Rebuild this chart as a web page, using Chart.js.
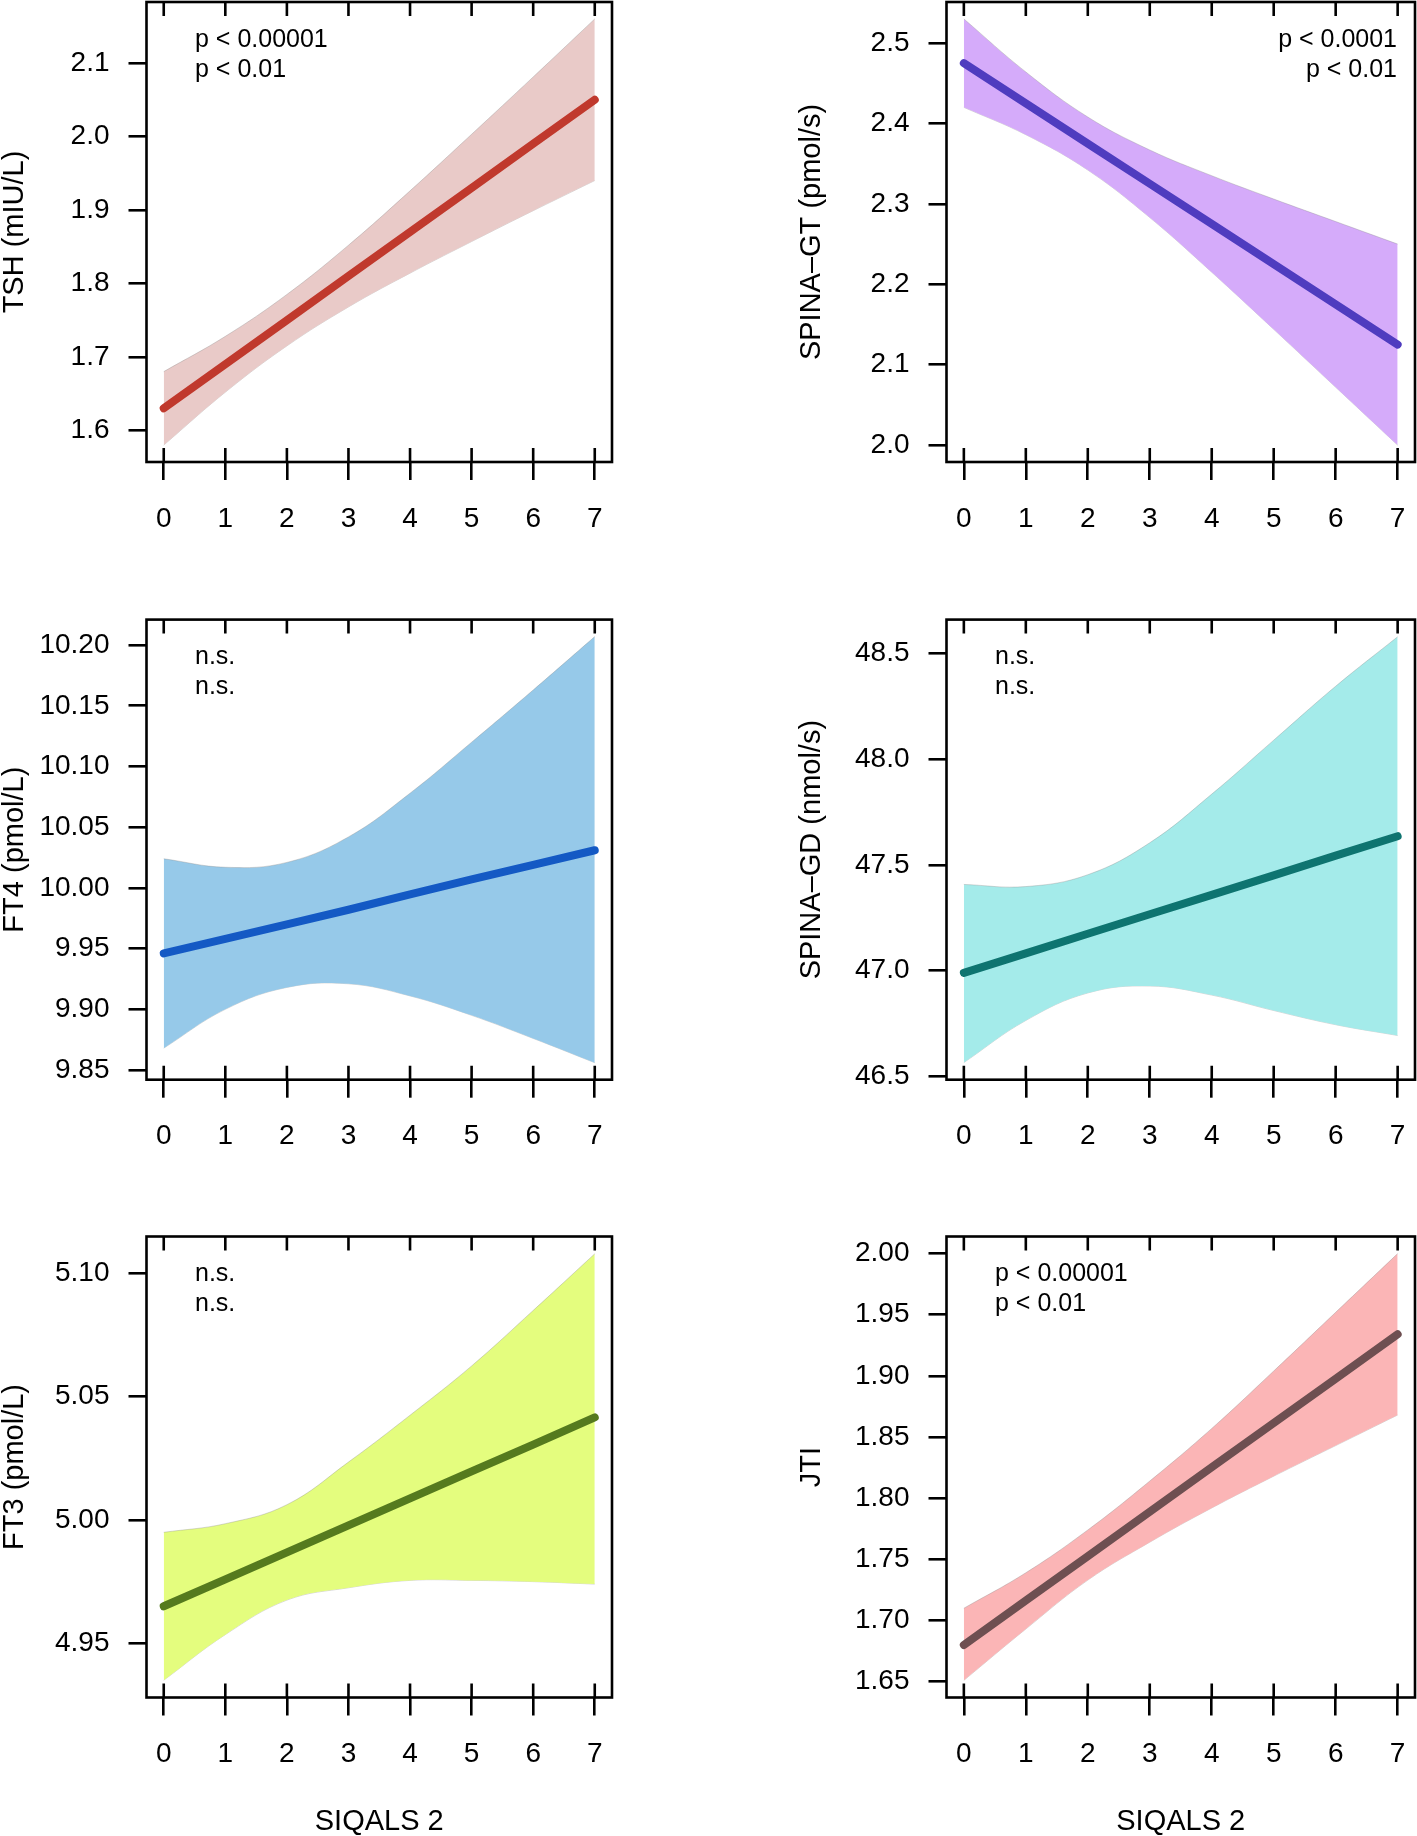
<!DOCTYPE html>
<html>
<head>
<meta charset="utf-8">
<script src="https://cdn.jsdelivr.net/npm/chart.js@4.4.1/dist/chart.umd.min.js"></script>
<style>
  body { margin: 0; background: #fff; width: 1417px; height: 1836px; position: relative; overflow: hidden; }
  canvas { position: absolute; }
</style>
</head>
<body>
<canvas id="tsh" width="709" height="612" style="left:0;top:0"></canvas>
<canvas id="gt" width="708" height="612" style="left:709px;top:0"></canvas>
<canvas id="ft4" width="709" height="612" style="left:0;top:612px"></canvas>
<canvas id="gd" width="708" height="612" style="left:709px;top:612px"></canvas>
<canvas id="ft3" width="709" height="612" style="left:0;top:1224px"></canvas>
<canvas id="jti" width="708" height="612" style="left:709px;top:1224px"></canvas>
<script>
// x values (SIQALS 2 score) and tick labels
const siqals = [0, 1, 2, 3, 4, 5, 6, 7];
const xTickLabels = ['0', '1', '2', '3', '4', '5', '6', '7'];

// TSH
const tshFit   = [1.63, 1.69, 1.75, 1.81, 1.87, 1.93, 1.99, 2.05];
const tshUpper = [1.68, 1.728, 1.785, 1.852, 1.926, 2.003, 2.081, 2.16];
const tshLower = [1.58, 1.652, 1.715, 1.768, 1.814, 1.857, 1.899, 1.94];
const tshTicks = ['1.6', '1.7', '1.8', '1.9', '2.0', '2.1'];

// SPINA-GT
const gtFit   = [2.475, 2.425, 2.375, 2.325, 2.275, 2.225, 2.175, 2.125];
const gtUpper = [2.53, 2.464, 2.408, 2.367, 2.335, 2.306, 2.278, 2.25];
const gtLower = [2.42, 2.386, 2.342, 2.283, 2.215, 2.144, 2.072, 2.0];
const gtTicks = ['2.0', '2.1', '2.2', '2.3', '2.4', '2.5'];

// FT4
const ft4Fit   = [9.946, 9.958, 9.970, 9.982, 9.9946, 10.007, 10.019, 10.031];
const ft4Upper = [10.024, 10.017, 10.021, 10.042, 10.078, 10.120, 10.163, 10.207];
const ft4Lower = [9.868, 9.900, 9.918, 9.921, 9.911, 9.895, 9.876, 9.856];
const ft4Ticks = ['9.85', '9.90', '9.95', '10.00', '10.05', '10.10', '10.15', '10.20'];

// SPINA-GD
const gdFit   = [46.99, 47.082, 47.175, 47.267, 47.359, 47.451, 47.544, 47.636];
const gdUpper = [47.408, 47.398, 47.454, 47.605, 47.835, 48.09, 48.345, 48.579];
const gdLower = [46.566, 46.765, 46.895, 46.928, 46.885, 46.812, 46.745, 46.694];
const gdTicks = ['46.5', '47.0', '47.5', '48.0', '48.5'];

// FT3
const ft3Fit   = [4.965, 4.9759, 4.9869, 4.9978, 5.0088, 5.0197, 5.0306, 5.0416];
const ft3Upper = [4.995, 4.9985, 5.0062, 5.0235, 5.0425, 5.0625, 5.085, 5.108];
const ft3Lower = [4.935, 4.9535, 4.9675, 4.9725, 4.9755, 4.9755, 4.975, 4.974];
const ft3Ticks = ['4.95', '5.00', '5.05', '5.10'];

// JTI
const jtiFit   = [1.680, 1.7163, 1.7526, 1.7889, 1.8252, 1.8615, 1.8977, 1.934];
const jtiUpper = [1.710, 1.739, 1.774, 1.814, 1.857, 1.904, 1.952, 2.000];
const jtiLower = [1.651, 1.693, 1.733, 1.764, 1.792, 1.818, 1.843, 1.868];
const jtiTicks = ['1.65', '1.70', '1.75', '1.80', '1.85', '1.90', '1.95', '2.00'];

const FONT = '"Liberation Sans", Arial, Helvetica, sans-serif';
Chart.defaults.font.family = FONT;
Chart.defaults.color = '#000';

// layout of the 3x2 grid (canvas rows are 612px tall)
const rowTops = [0, 612, 1224];
const boxTops = [2, 619.6, 1236.5];
const boxBottoms = [462, 1079.7, 1697.5];

const panels = [
  { id: 'tsh', row: 0, col: 0, title: 'TSH (mIU/L)', fit: tshFit, upper: tshUpper, lower: tshLower,
    ticks: tshTicks, yMin: 1.557, yMax: 2.183, band: '#e9cac8', line: '#c0392d',
    notes: ['p < 0.00001', 'p < 0.01'], align: 'left' },
  { id: 'gt', row: 0, col: 1, title: 'SPINA–GT (pmol/s)', fit: gtFit, upper: gtUpper, lower: gtLower,
    ticks: gtTicks, yMin: 1.979, yMax: 2.551, band: '#d5abfa', line: '#4f3cbf',
    notes: ['p < 0.0001', 'p < 0.01'], align: 'right' },
  { id: 'ft4', row: 1, col: 0, title: 'FT4 (pmol/L)', fit: ft4Fit, upper: ft4Upper, lower: ft4Lower,
    ticks: ft4Ticks, yMin: 9.842, yMax: 10.221, band: '#96c9e9', line: '#1459c4',
    notes: ['n.s.', 'n.s.'], align: 'left' },
  { id: 'gd', row: 1, col: 1, title: 'SPINA–GD (nmol/s)', fit: gdFit, upper: gdUpper, lower: gdLower,
    ticks: gdTicks, yMin: 46.485, yMax: 48.66, band: '#a4ebea', line: '#0e7470',
    notes: ['n.s.', 'n.s.'], align: 'left' },
  { id: 'ft3', row: 2, col: 0, title: 'FT3 (pmol/L)', fit: ft3Fit, upper: ft3Upper, lower: ft3Lower,
    ticks: ft3Ticks, yMin: 4.928, yMax: 5.115, band: '#e4fd7e', line: '#557a1e',
    notes: ['n.s.', 'n.s.'], align: 'left' },
  { id: 'jti', row: 2, col: 1, title: 'JTI', fit: jtiFit, upper: jtiUpper, lower: jtiLower,
    ticks: jtiTicks, yMin: 1.637, yMax: 2.014, band: '#fbb5b6', line: '#6e4f51',
    notes: ['p < 0.00001', 'p < 0.01'], align: 'left' }
];

function framePlugin(p) {
  return {
    id: 'frame',
    afterDraw(chart) {
      const { ctx, chartArea: a, scales: { x } } = chart;
      ctx.save();
      ctx.strokeStyle = '#000';
      ctx.lineWidth = 2.6;
      ctx.strokeRect(a.left, a.top, a.right - a.left, a.bottom - a.top);
      // inner tick marks on bottom and top edges
      ctx.beginPath();
      x.ticks.forEach(t => {
        const px = x.getPixelForValue(t.value);
        ctx.moveTo(px, a.bottom); ctx.lineTo(px, a.bottom - 14);
        ctx.moveTo(px, a.top); ctx.lineTo(px, a.top + 14);
      });
      ctx.stroke();
      ctx.fillStyle = '#000';
      ctx.font = '25px ' + FONT;
      ctx.textBaseline = 'middle';
      ctx.textAlign = p.align;
      const tx = p.align === 'right' ? a.right - 18 : a.left + 48.5;
      p.notes.forEach((s, i) => ctx.fillText(s, tx, a.top + 38 + i * 30));
      ctx.restore();
    }
  };
}

function makePanel(p) {
  const left = p.col === 0;
  const canvasTop = rowTops[p.row];
  const padTop = boxTops[p.row] - canvasTop;
  const xHeight = canvasTop + 612 - boxBottoms[p.row];
  const yWidth = left ? 146.5 : 237.5;
  const padRight = left ? 97 : 2;
  const tickGrid = { drawOnChartArea: false, drawTicks: true, tickLength: 18, color: '#000', lineWidth: 2.6 };
  const tickFont = { size: 28, family: FONT };
  const band = { borderColor: 'rgba(140,140,140,0.35)', borderWidth: 1, pointRadius: 0, tension: 0.4 };

  new Chart(document.getElementById(p.id), {
    type: 'line',
    data: {
      datasets: [
        { data: siqals.map((x, i) => ({ x, y: p.fit[i] })), borderColor: p.line, borderWidth: 8,
          borderCapStyle: 'round', pointRadius: 0, fill: false, tension: 0 },
        { ...band, data: siqals.map((x, i) => ({ x, y: p.upper[i] })), backgroundColor: p.band, fill: '+1' },
        { ...band, data: siqals.map((x, i) => ({ x, y: p.lower[i] })), fill: false }
      ]
    },
    options: {
      responsive: false,
      animation: false,
      layout: { padding: { top: padTop, right: padRight, left: 0, bottom: 0 } },
      plugins: { legend: { display: false }, tooltip: { enabled: false } },
      scales: {
        x: {
          type: 'linear', min: -0.28, max: 7.28,
          afterBuildTicks: s => { s.ticks = xTickLabels.map(t => ({ value: +t })); },
          afterFit: s => { s.height = xHeight; s.paddingLeft = 0; s.paddingRight = 0; },
          grid: tickGrid,
          border: { display: false },
          ticks: { font: tickFont, color: '#000', padding: 22, maxRotation: 0, autoSkip: false,
                   callback: (v, i) => xTickLabels[i] },
          title: { display: p.row === 2, text: 'SIQALS 2', color: '#000',
                   font: { size: 29, family: FONT, lineHeight: 1 }, padding: { top: 0, bottom: 0 } }
        },
        y: {
          type: 'linear', min: p.yMin, max: p.yMax,
          afterBuildTicks: s => { s.ticks = p.ticks.map(t => ({ value: +t })); },
          afterFit: s => { s.width = yWidth; s.paddingTop = 0; s.paddingBottom = 0; },
          grid: tickGrid,
          border: { display: false },
          ticks: { font: tickFont, color: '#000', padding: 19, autoSkip: false,
                   callback: (v, i) => p.ticks[i] },
          title: { display: true, text: p.title, color: '#000',
                   font: { size: 29, family: FONT, lineHeight: 1 },
                   padding: { top: left ? 0 : 88.5, bottom: 0 } }
        }
      }
    },
    plugins: [framePlugin(p)]
  });
}

panels.forEach(makePanel);
</script>
</body>
</html>
